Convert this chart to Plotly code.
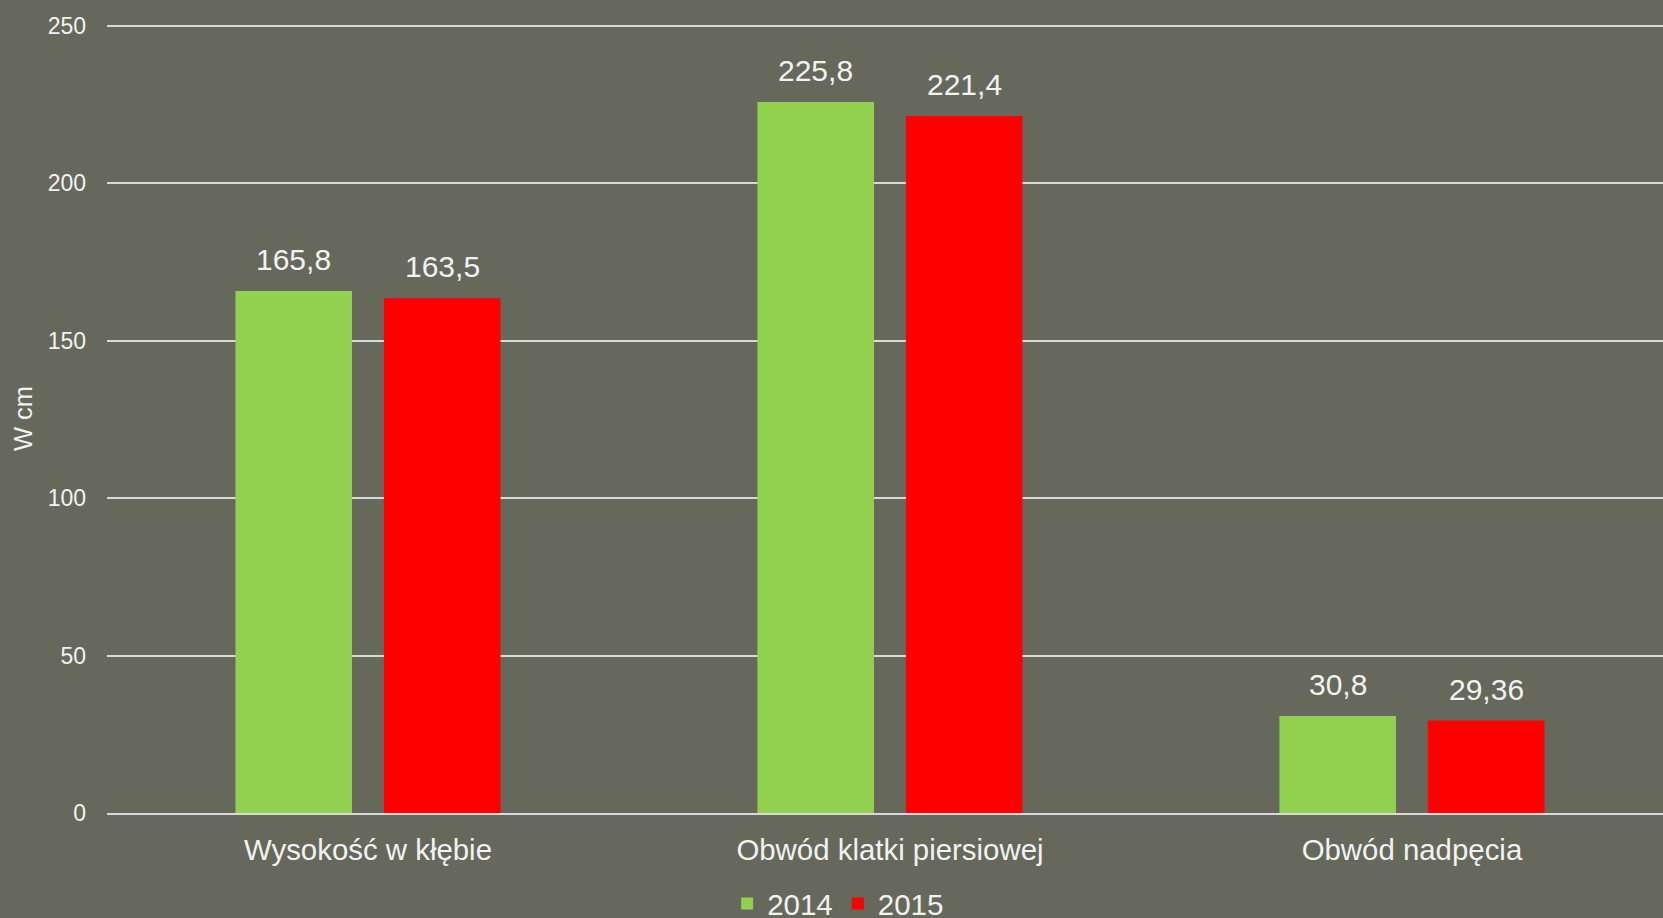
import plotly.graph_objects as go

categories = ["Wysokość w kłębie", "Obwód klatki piersiowej", "Obwód nadpęcia"]
series_names = ["2014", "2015"]
values_2014 = [165.8, 225.8, 30.8]
values_2015 = [163.5, 221.4, 29.36]
y_ticks = [0, 50, 100, 150, 200, 250]
y_title = "W cm"

colors = {"2014": "#92D050", "2015": "#FF0000"}
bg = "#66685B"
txt = "#F2F2F2"
font_family = "Liberation Sans, Arial, sans-serif"
BARGAP = 0.431
BARGROUPGAP = 0.215


def fmt(v):
    return f"{v:g}".replace(".", ",")


fig = go.Figure()
all_series = [values_2014, values_2015]
n_series = len(all_series)
slot = (1 - BARGAP) / n_series
for k, (name, vals) in enumerate(zip(series_names, all_series)):
    fig.add_trace(go.Bar(
        name=name,
        x=categories,
        y=vals,
        marker=dict(color=colors[name], line=dict(width=0)),
        cliponaxis=False,
    ))
    offset = (k - (n_series - 1) / 2) * slot
    for i, v in enumerate(vals):
        fig.add_annotation(
            x=i + offset, y=v, xref="x", yref="y",
            text=fmt(v), showarrow=False,
            xanchor="center", yanchor="bottom", yshift=13,
            font=dict(size=30, color=txt, family=font_family),
        )

fig.update_layout(
    width=1663,
    height=918,
    paper_bgcolor=bg,
    plot_bgcolor=bg,
    barmode="group",
    bargap=BARGAP,
    bargroupgap=BARGROUPGAP,
    margin=dict(l=107, r=0, t=24, b=105, autoexpand=False),
    font=dict(family=font_family, color=txt),
    showlegend=True,
    legend=dict(
        orientation="h",
        xref="container", yref="paper",
        x=0.504, xanchor="center",
        y=-0.115, yanchor="middle",
        font=dict(size=29.5, color=txt, family=font_family),
        bgcolor="rgba(0,0,0,0)",
        itemwidth=30,
        tracegroupgap=0,
    ),
    xaxis=dict(
        range=[-0.5, 2.481],
        showgrid=False,
        showline=True,
        linecolor="#D9D9D9",
        linewidth=2,
        tickfont=dict(size=29.4, color=txt, family=font_family),
        tickangle=0,
        ticks="",
        ticklabelstandoff=10,
        fixedrange=True,
    ),
    yaxis=dict(
        range=[0, 250.6],
        tickvals=y_ticks,
        ticktext=[str(t) for t in y_ticks],
        showgrid=True,
        gridcolor="#D9D9D9",
        gridwidth=2,
        zeroline=False,
        showline=False,
        tickfont=dict(size=23, color=txt, family=font_family),
        ticks="",
        ticklabelstandoff=20,
        title=dict(text=y_title, font=dict(size=25.5, color=txt, family=font_family), standoff=7),
        fixedrange=True,
    ),
)

fig.write_html(
    "out.html",
    config={"displayModeBar": False},
    post_script="document.body.style.margin='0';document.body.style.background='" + bg + "';",
)
